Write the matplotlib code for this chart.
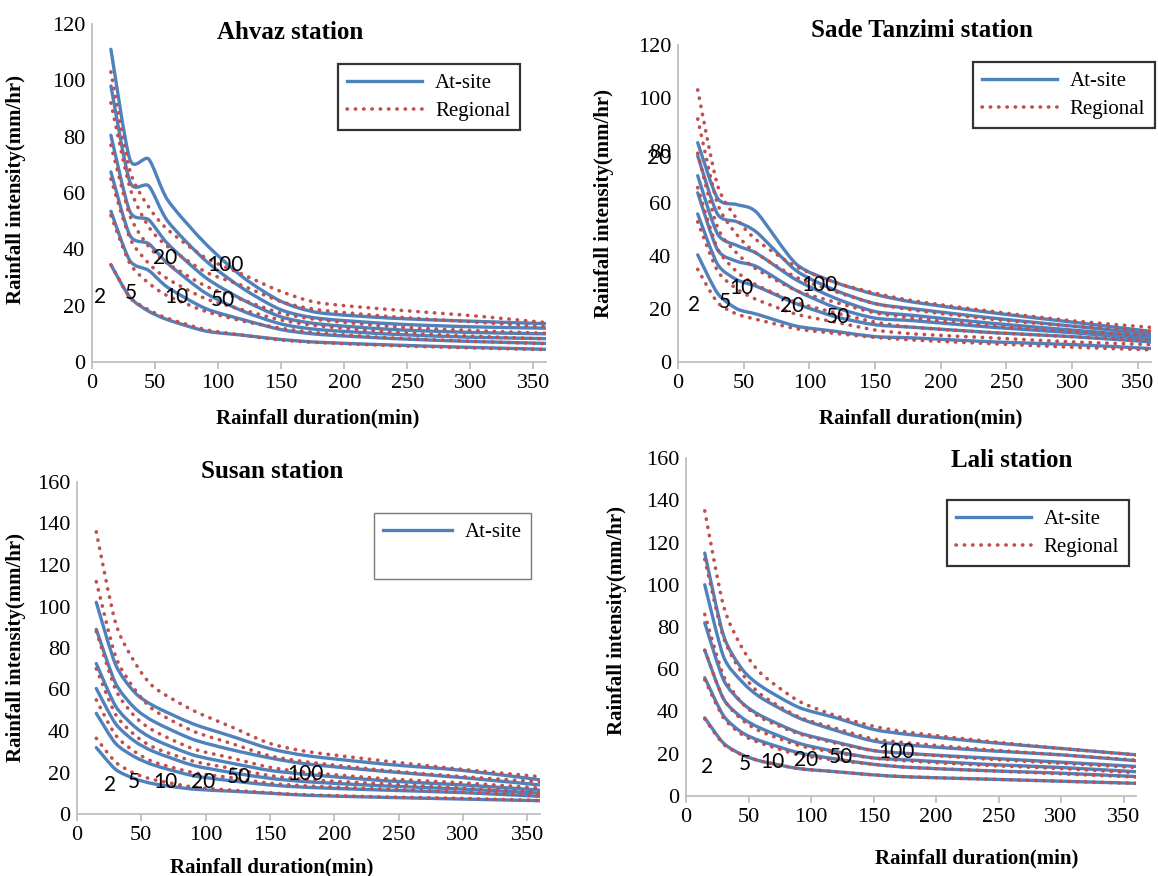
#import necessary libraries
import numpy as np
import matplotlib.pyplot as plt
from matplotlib.lines import Line2D
from matplotlib.path import Path
from matplotlib.patches import PathPatch

#durations (min) and return periods (years)
durations = [15, 30, 45, 60, 90, 120, 150, 180, 240, 300, 360]
return_periods = [2, 5, 10, 20, 50, 100]

#Ahvaz station
ahvaz_atsite = {
    100: [111, 72, 72, 57.5, 42, 30, 21.5, 17.5, 15.5, 14.5, 13.6],
    50: [98, 64, 62.5, 50, 36, 26, 18.5, 15.5, 13.5, 12.5, 12],
    20: [80.5, 53.5, 50.5, 42, 30, 22, 16, 13.5, 11.5, 10.5, 10],
    10: [67.5, 45, 42, 35, 24.5, 18, 13.5, 11.5, 9.8, 8.8, 8.3],
    5: [53.5, 36, 32.5, 26.5, 19, 15, 11.5, 9.8, 8.3, 7.3, 6.6],
    2: [34.5, 23, 18, 15, 11, 9.5, 8, 7, 6, 5.2, 4.5],
}
ahvaz_regional = {
    100: [103, 68, 55, 47, 37, 31, 25, 21, 18.5, 16.5, 14],
    50: [92, 62, 48, 41, 32, 27, 21.4, 18.5, 16, 14.3, 12.5],
    20: [77, 52, 41, 35, 27, 22, 17.3, 15, 12.5, 11.2, 10.2],
    10: [65, 44, 35, 29.5, 22.5, 18.5, 14.9, 12.8, 10.5, 9.2, 8.2],
    5: [52, 35, 28, 23.5, 18, 14.5, 12, 10.3, 8.5, 7.4, 6.5],
    2: [34.5, 23, 18.5, 15.5, 11.5, 9.5, 7.8, 6.9, 5.8, 5, 4.4],
}

#Sade Tanzimi station
sade_atsite = {
    100: [83, 62, 59.5, 56.5, 37, 30, 25.5, 22.5, 18.5, 15, 11.5],
    50: [78, 56, 53, 49, 34.5, 27, 22, 20, 16.5, 13.5, 10.5],
    20: [70.5, 48.5, 44, 41, 31, 24, 19, 17.5, 14.5, 12, 9.5],
    10: [64, 42.5, 38, 36, 27, 20.5, 16.5, 15.5, 13, 11, 8.5],
    5: [56, 37, 31, 28.5, 22, 17, 14, 13, 11, 9.5, 7.5],
    2: [40.5, 26, 20, 18, 13.5, 11.5, 9.5, 9, 7.5, 6.5, 5],
}
sade_regional = {
    100: [103, 67, 54, 46, 36, 30, 26, 23, 19, 15.5, 13],
    50: [92, 60, 48, 41, 32, 26.5, 22, 19.5, 16, 13.5, 11.5],
    20: [79, 51, 41, 35, 27, 22.5, 18.5, 16.5, 13.5, 11.5, 10],
    10: [66, 43, 34, 29, 22.5, 18.5, 15, 13, 11, 9.5, 8],
    5: [53, 34.5, 27.5, 23.5, 18, 15, 12, 10.5, 9, 7.5, 6.5],
    2: [35, 22.5, 18, 16, 12.5, 10.7, 9.2, 8.2, 6.8, 5.5, 4.5],
}

#Susan station
susan_atsite = {
    100: [102, 72, 58.5, 52, 43.5, 37.5, 31.5, 28, 24, 21, 16.5],
    50: [89, 63, 51, 44.5, 36, 31, 27, 24, 20.5, 17.5, 14],
    20: [72.5, 52, 42, 36, 28.5, 24.5, 21, 19, 16, 14, 11.5],
    10: [60.5, 43.5, 35, 30, 23.5, 20, 17.2, 15.5, 13.5, 12, 10],
    5: [48.5, 34, 27.5, 23.5, 18.5, 16, 14, 12.8, 11.5, 10.3, 8.5],
    2: [32, 21.5, 17, 14.5, 12, 11, 10, 9, 8, 7.2, 6.4],
}
susan_regional = {
    100: [136, 92, 73, 61, 50, 42, 34, 30, 25.5, 21.5, 18],
    50: [112, 76, 60, 50, 40, 34, 28, 25, 21, 18, 15.5],
    20: [88, 60, 47, 40, 31.5, 27, 22.5, 20, 17, 15, 12.5],
    10: [70, 48, 38, 32, 25.5, 22, 18.5, 16.5, 14.5, 12.5, 10.5],
    5: [55, 38, 30, 25, 20, 17.5, 14.8, 13.5, 12, 10.5, 9],
    2: [36.5, 25, 19.5, 16.5, 13, 11.5, 10.2, 9.2, 8.2, 7.5, 6.5],
}

#Lali station
lali_atsite = {
    100: [115, 76, 60, 52, 42, 37, 31.5, 29, 25.5, 22.5, 19.5],
    50: [100, 66, 54, 46.5, 37, 31, 26, 24, 21.5, 19.5, 16.7],
    20: [82, 55, 44, 38, 30, 25.5, 21.5, 20, 18, 16, 14],
    10: [69, 46, 37, 32, 25, 21, 18, 17, 15, 13.5, 11.5],
    5: [56, 38, 30, 26, 20.5, 17.5, 15, 13.5, 12, 10.8, 9.2],
    2: [37, 25, 19.5, 16.5, 13, 11.5, 10, 9, 8, 7, 6],
}
lali_regional = {
    100: [135, 90, 70, 58, 45, 38, 33, 30, 26, 22.5, 19.5],
    50: [112, 75, 58, 48, 37.5, 32, 27, 25, 22, 19.5, 17],
    20: [86, 57, 44, 37, 29.5, 25, 21.5, 20, 17.5, 15.5, 13.5],
    10: [69, 46, 36, 30.5, 24, 20.5, 18, 16.5, 14.5, 13, 11],
    5: [55, 37, 29, 25, 19.5, 17, 15, 13.5, 12, 10.5, 9],
    2: [36.5, 24.5, 19.5, 16.5, 13, 11.5, 10, 9, 8, 7, 6],
}

#return period labels (text, duration, intensity)
ahvaz_labels = [('2', 6, 23), ('5', 31, 24.5), ('10', 67, 23), ('20', 58, 37), ('50', 104, 22), ('100', 106, 34.5)]
sade_labels = [('2', 12, 21.5), ('5', 36, 22.5), ('10', 48, 28), ('20', 87, 21), ('50', 122, 17), ('100', 108, 29), ('20', -14, 77)]
susan_labels = [('2', 26, 14), ('5', 44, 15.5), ('10', 69, 15.5), ('20', 98, 15.5), ('50', 126, 18), ('100', 178, 19.5)]
lali_labels = [('2', 17, 13.5), ('5', 47, 15), ('10', 69, 16), ('20', 96, 17), ('50', 124, 18.5), ('100', 168, 21)]

blue = '#4f81bd'
red = '#c0504d'
dotted = (0, (0.1, 2.2))
serif = 'Liberation Serif'

fig = plt.figure(figsize=(11.58, 8.76), dpi=100)


def smooth_path(x, y, k=1 / 8):
    #bezier path through the points, like a smoothed excel line
    x = np.asarray(x, float)
    y = np.asarray(y, float)
    n = len(x)
    verts = [(x[0], y[0])]
    codes = [Path.MOVETO]
    for i in range(n - 1):
        a = max(i - 1, 0)
        b = min(i + 2, n - 1)
        c1 = (x[i] + (x[i + 1] - x[a]) * k, y[i] + (y[i + 1] - y[a]) * k)
        c2 = (x[i + 1] - (x[b] - x[i]) * k, y[i + 1] - (y[b] - y[i]) * k)
        verts += [c1, c2, (x[i + 1], y[i + 1])]
        codes += [Path.CURVE4] * 3
    return Path(verts, codes)


def draw_station(rect, title, title_pos, atsite, regional, labels, ymax, legend_box,
                 xlabel_pos, ylabel_pos, show_regional_legend=True, legend_edge='black'):
    ax = fig.add_axes(rect)
    for rp in return_periods:
        ax.add_patch(PathPatch(smooth_path(durations, atsite[rp]), facecolor='none',
                               edgecolor=blue, lw=2.4, capstyle='round'))
    for rp in return_periods:
        ax.add_patch(PathPatch(smooth_path(durations, regional[rp]), facecolor='none',
                               edgecolor=red, lw=2.6, linestyle=dotted, capstyle='round'))

    ax.set_xlim(0, 360)
    ax.set_ylim(0, ymax)
    ax.set_xticks(np.arange(0, 351, 50))
    ax.set_yticks(np.arange(0, ymax + 1, 20))
    for side in ['top', 'right']:
        ax.spines[side].set_visible(False)
    for side in ['left', 'bottom']:
        ax.spines[side].set_color('#bfbfbf')
        ax.spines[side].set_linewidth(1.3)
    ax.tick_params(axis='x', length=5, color='#bfbfbf', width=1.3, pad=4)
    ax.tick_params(axis='y', length=0, pad=5)
    for t in ax.get_xticklabels() + ax.get_yticklabels():
        t.set_fontfamily(serif)
        t.set_fontsize(16)

    #title and axis labels
    ax.text(title_pos[0], title_pos[1], title, transform=ax.transAxes, ha='center', va='center',
            fontfamily=serif, fontweight='bold', fontsize=18)
    ax.set_xlabel('Rainfall duration(min)', fontfamily=serif, fontweight='bold', fontsize=15)
    ax.set_ylabel('Rainfall intensity(mm/hr)', fontfamily=serif, fontweight='bold', fontsize=15)
    ax.xaxis.set_label_coords(*xlabel_pos)
    ax.yaxis.set_label_coords(*ylabel_pos)

    #return period labels
    for txt, x, y in labels:
        ax.text(x, y, txt, ha='center', va='center', fontfamily='Lato', fontsize=15, color='black')

    #legend
    h1 = Line2D([], [], color=blue, lw=2.4)
    if show_regional_legend:
        h2 = Line2D([], [], color=red, lw=2.6, linestyle=dotted, dash_capstyle='round')
        label2 = 'Regional'
        hl = 3.6
    else:
        h2 = Line2D([], [], linestyle='none')
        label2 = ' '
        hl = 3.3
    leg = ax.legend([h1, h2], ['At-site', label2], loc='upper left',
                    bbox_to_anchor=legend_box, bbox_transform=fig.transFigure, borderaxespad=0,
                    prop={'family': serif, 'size': 15}, frameon=True, fancybox=False,
                    handlelength=hl, handletextpad=0.6, borderpad=0.45, labelspacing=0.4)
    leg.get_frame().set_edgecolor(legend_edge)
    leg.get_frame().set_linewidth(1.6 if legend_edge == 'black' else 1.0)
    return ax


#Ahvaz (top left)
draw_station([92 / 1158, 1 - 362 / 876, 454 / 1158, 338 / 876], 'Ahvaz station', (0.436, 0.976),
             ahvaz_atsite, ahvaz_regional, ahvaz_labels, 120,
             (338 / 1158, 1 - 64 / 876), (0.498, -0.139), (-0.145, 0.51))

#Sade Tanzimi (top right)
draw_station([678 / 1158, 1 - 361.7 / 876, 473 / 1158, 316.7 / 876], 'Sade Tanzimi station', (0.516, 1.047),
             sade_atsite, sade_regional, sade_labels, 120,
             (973 / 1158, 1 - 62 / 876), (0.514, -0.149), (-0.135, 0.50))

#Susan (bottom left)
draw_station([77 / 1158, 1 - 814 / 876, 463 / 1158, 332 / 876], 'Susan station', (0.421, 1.033),
             susan_atsite, susan_regional, susan_labels, 160,
             (374 / 1158, 1 - 513 / 876), (0.421, -0.13), (-0.11, 0.5),
             show_regional_legend=False, legend_edge='#595959')

#Lali (bottom right)
draw_station([686 / 1158, 1 - 796 / 876, 450 / 1158, 338 / 876], 'Lali station', (0.723, 0.994),
             lali_atsite, lali_regional, lali_labels, 160,
             (947 / 1158, 1 - 500 / 876), (0.647, -0.154), (-0.131, 0.52))

#output the graph
fig.savefig('out.png', dpi=100)
